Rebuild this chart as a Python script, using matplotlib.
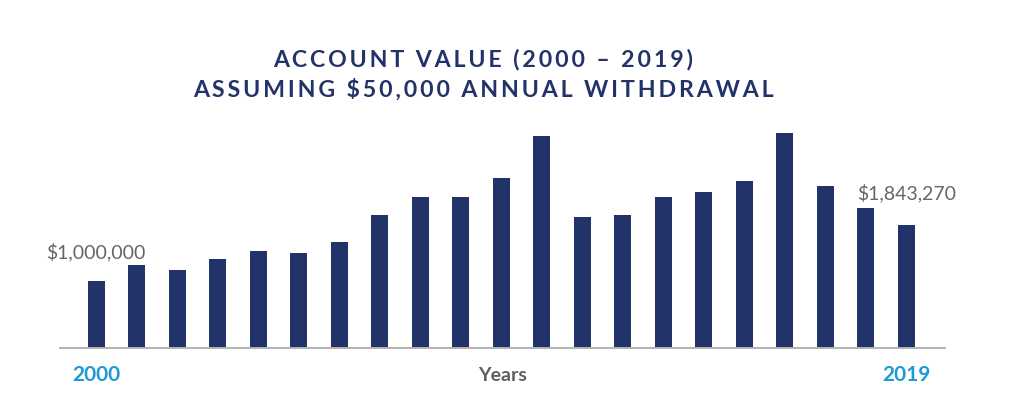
import numpy as np
import matplotlib.pyplot as plt

# account value at each year end
years = list(range(2000, 2021))
values = [1000000, 1244000, 1169000, 1334000, 1454000, 1424000, 1589000,
          1993000, 2263000, 2263000, 2548000, 3177000, 1963000, 1993000,
          2263000, 2338000, 2503000, 3222000, 2428000, 2098000, 1843270]
first_label = '$1,000,000'
last_label = '$1,843,270'
tick_labels = ['2000', '2019']

navy = '#22336a'
blue = '#1f9ad6'
grey = '#666666'

plt.rcParams['font.family'] = ['Lato', 'DejaVu Sans']

fig = plt.figure(figsize=(10.24, 4.03), dpi=100)
ax = fig.add_axes([60 / 1024, 55 / 403, 885 / 1024, 228 / 403])

x = np.arange(len(values))
ax.bar(x, values, width=0.42, color=navy, zorder=2)

ax.set_xlim(-0.89, 20.96)
ax.set_ylim(0, 3417000)
for s in ['top', 'right', 'left']:
    ax.spines[s].set_visible(False)
ax.spines['bottom'].set_color('#b3b3b3')
ax.spines['bottom'].set_linewidth(1.4)
ax.set_xticks([])
ax.set_yticks([])

# value labels above first and last bar
ax.annotate(first_label, xy=(x[0], values[0]), xytext=(0, 21), textcoords='offset points',
            ha='center', va='center', fontsize=14, color=grey)
ax.annotate(last_label, xy=(x[-1], values[-1]), xytext=(0, 23), textcoords='offset points',
            ha='center', va='center', fontsize=14, color=grey)

# year labels under the axis
for xi, lab in zip([x[0], x[-1]], tick_labels):
    ax.annotate(lab, xy=(xi, 0), xycoords=('data', 'axes fraction'), xytext=(0, -19.5),
                textcoords='offset points', ha='center', va='center',
                fontsize=15, fontweight='bold', color=blue)
ax.annotate('Years', xy=(0.5, 0), xycoords='axes fraction', xytext=(0, -19.5),
            textcoords='offset points', ha='center', va='center',
            fontsize=14, fontweight='bold', color='#5f5f5f')

# spaced-out title
def spaced(s):
    return '\u2009'.join(s)

fig.text(483 / 1024, 1 - 60 / 403, spaced('ACCOUNT VALUE (2000 – 2019)'),
         ha='center', va='center', fontsize=16.7, fontweight='bold', color=navy)
fig.text(483 / 1024, 1 - 90 / 403, spaced('ASSUMING $50,000 ANNUAL WITHDRAWAL'),
         ha='center', va='center', fontsize=16.7, fontweight='bold', color=navy)

fig.savefig('out.png', dpi=100)
